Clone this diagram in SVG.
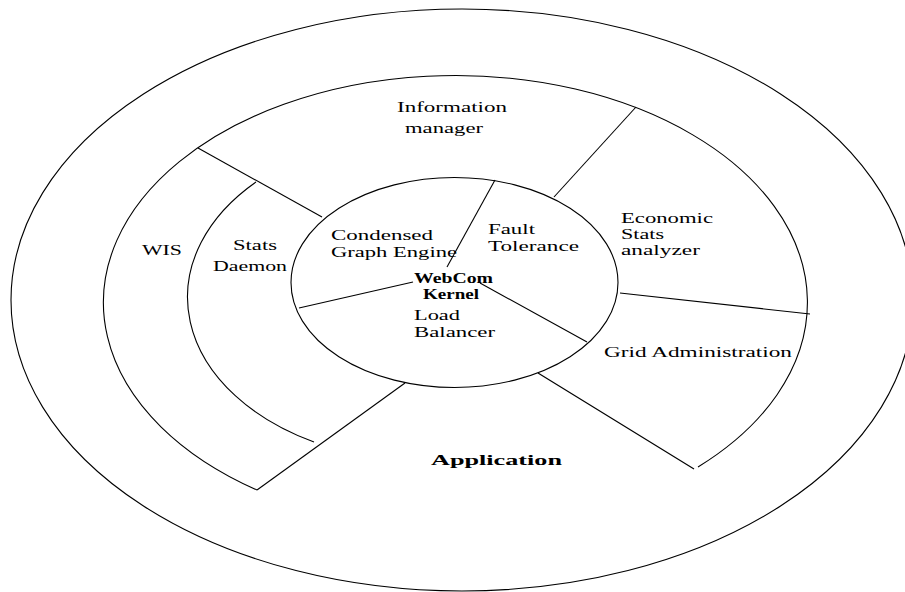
<svg xmlns="http://www.w3.org/2000/svg" width="905" height="592" viewBox="0 0 905 592">
  <style>
    .ring { fill: none; stroke: #000; stroke-width: 1.1; }
    .div { stroke: #000; stroke-width: 1.1; fill: none; }
    text { font-family: "Liberation Serif", "Times New Roman", serif; font-size: 15px; fill: #000; }
    .b { font-weight: bold; }
  </style>
  <rect width="905" height="592" fill="#fff"/>

  <!-- outer layer: Application -->
  <g id="application">
    <ellipse class="ring" cx="462" cy="300" rx="451" ry="291"/>
    <text class="b" x="431" y="465" textLength="131" lengthAdjust="spacingAndGlyphs" font-size="17">Application</text>
  </g>

  <!-- middle ring, open at the bottom -->
  <g id="services-ring">
    <path class="ring" d="M 257 490 A 352 227 0 1 1 698 467"/>
  </g>

  <!-- Stats Daemon inner arc -->
  <g id="stats-daemon">
    <path class="ring" d="M 314 442 A 238 164 0 0 1 256 182"/>
    <text x="233" y="250" textLength="44" lengthAdjust="spacingAndGlyphs">Stats</text>
    <text x="213" y="271" textLength="74" lengthAdjust="spacingAndGlyphs">Daemon</text>
  </g>

  <g id="wis">
    <text x="142" y="255" textLength="40" lengthAdjust="spacingAndGlyphs">WIS</text>
  </g>

  <g id="information-manager">
    <text x="397" y="112" textLength="110" lengthAdjust="spacingAndGlyphs">Information</text>
    <text x="405" y="133" textLength="78" lengthAdjust="spacingAndGlyphs">manager</text>
  </g>

  <g id="economic-stats-analyzer">
    <text x="621" y="223" textLength="92" lengthAdjust="spacingAndGlyphs" font-size="14">Economic</text>
    <text x="621" y="239" textLength="43" lengthAdjust="spacingAndGlyphs" font-size="14">Stats</text>
    <text x="621" y="255" textLength="79" lengthAdjust="spacingAndGlyphs" font-size="14">analyzer</text>
  </g>

  <g id="grid-administration">
    <text x="604" y="357" textLength="188" lengthAdjust="spacingAndGlyphs">Grid Administration</text>
  </g>

  <!-- kernel core -->
  <g id="webcom-kernel">
    <ellipse class="ring" cx="454.5" cy="282.5" rx="163.5" ry="105"/>
    <text class="b" x="414" y="283" textLength="79" lengthAdjust="spacingAndGlyphs" font-size="13">WebCom</text>
    <text class="b" x="423" y="299" textLength="56" lengthAdjust="spacingAndGlyphs" font-size="13">Kernel</text>
  </g>

  <g id="condensed-graph-engine">
    <text x="331" y="240" textLength="102" lengthAdjust="spacingAndGlyphs" font-size="14.5">Condensed</text>
    <text x="331" y="257" textLength="126" lengthAdjust="spacingAndGlyphs" font-size="14.5">Graph Engine</text>
  </g>

  <g id="fault-tolerance">
    <text x="488" y="234" textLength="47" lengthAdjust="spacingAndGlyphs">Fault</text>
    <text x="488" y="251" textLength="91" lengthAdjust="spacingAndGlyphs">Tolerance</text>
  </g>

  <g id="load-balancer">
    <text x="414" y="320" textLength="46" lengthAdjust="spacingAndGlyphs">Load</text>
    <text x="414" y="337" textLength="81" lengthAdjust="spacingAndGlyphs">Balancer</text>
  </g>

  <!-- dividing lines between regions -->
  <g id="connectors">
    <line class="div" x1="198" y1="148" x2="322" y2="217"/>
    <line class="div" x1="636" y1="107" x2="554" y2="197"/>
    <line class="div" x1="620" y1="293" x2="810" y2="314"/>
    <line class="div" x1="538" y1="373" x2="694" y2="469"/>
    <line class="div" x1="405" y1="383" x2="257" y2="490"/>
    <line class="div" x1="495" y1="180" x2="447" y2="267"/>
    <line class="div" x1="299" y1="308" x2="413" y2="282"/>
    <line class="div" x1="480" y1="283" x2="587" y2="342"/>
  </g>
</svg>
